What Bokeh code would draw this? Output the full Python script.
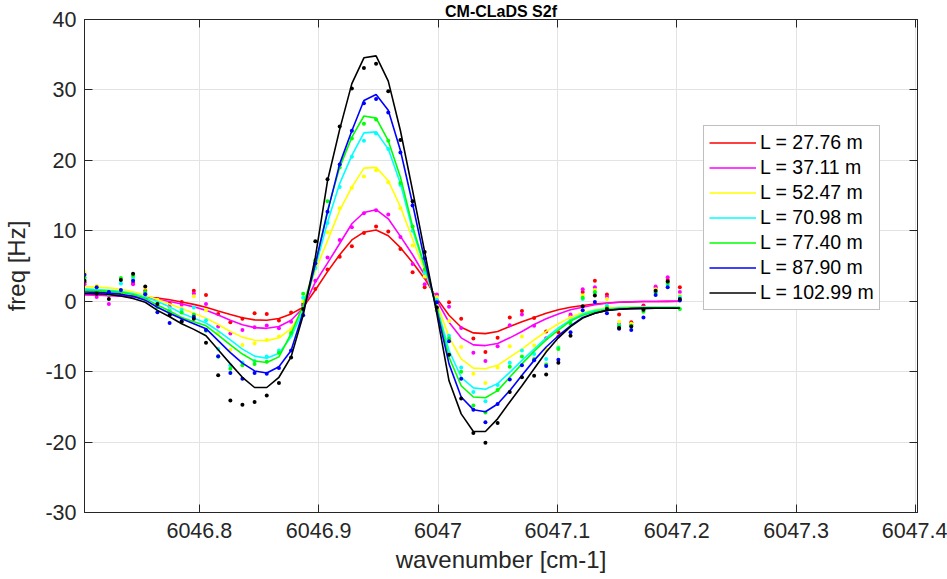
from bokeh.plotting import figure
from bokeh.models import (Range1d, LinearAxis, FixedTicker, Legend, LegendItem,
                          CustomJSTickFormatter, GlobalInlineStyleSheet)
from bokeh.embed import file_html
from bokeh.resources import INLINE

# ---------------- data ----------------
wavenumber = [6046.7038, 6046.7140, 6046.7242, 6046.7343, 6046.7445, 6046.7547, 6046.7649, 6046.7751,
              6046.7852, 6046.7954, 6046.8056, 6046.8158, 6046.8260, 6046.8361, 6046.8463, 6046.8565,
              6046.8667, 6046.8769, 6046.8870, 6046.8972, 6046.9074, 6046.9176, 6046.9278, 6046.9379,
              6046.9481, 6046.9583, 6046.9685, 6046.9787, 6046.9888, 6046.9990, 6047.0092, 6047.0194,
              6047.0296, 6047.0397, 6047.0499, 6047.0601, 6047.0703, 6047.0805, 6047.0906, 6047.1008,
              6047.1110, 6047.1212, 6047.1314, 6047.1415, 6047.1517, 6047.1619, 6047.1721, 6047.1823,
              6047.1924, 6047.2026]

series_names = ["L = 27.76 m", "L = 37.11 m", "L = 52.47 m", "L = 70.98 m",
                "L = 77.40 m", "L = 87.90 m", "L = 102.99 m"]
series_colors = ["#ff0000", "#ff00ff", "#ffff00", "#00ffff", "#00ff00", "#0000ff", "#000000"]

meas_L2776 = [2.7, 1.5, 0.9, 1.3, 2.6, 1.5, 0.3, -0.3, -0.1, 1.5,
              0.9, -1.8, -3.0, -2.5, -1.7, -1.8, -2.75, -1.6, -0.4, 1.75,
              4.5, 6.3, 7.8, 9.7, 10.6, 9.9, 7.4, 4.1, 2.0, 0.9,
              -0.15, -2.5, -5.3, -7.2, -5.2, -2.3, -1.4, -2.4, -4.3, -4.4,
              -2.1, 1.3, 2.9, 0.95, -1.9, -3.0, -0.6, 1.9, 3.0, 2.0]
meas_L3711 = [2.4, 0.6, -0.4, 1.0, 2.4, 1.1, 0.1, -0.8, -0.5, 1.1,
              -0.4, -3.6, -4.6, -4.1, -3.7, -3.45, -3.85, -2.9, -0.6, 2.9,
              6.2, 8.7, 10.5, 12.5, 12.9, 12.3, 9.1, 5.3, 2.4, 0.95,
              -0.8, -3.8, -7.3, -8.5, -6.4, -3.4, -1.9, -3.5, -5.25, -5.0,
              -1.9, 1.7, 2.0, 0.6, -3.2, -3.3, -0.8, 2.1, 3.4, 1.3]
meas_L5247 = [4.1, 2.2, 1.0, 1.2, 3.1, 1.9, 0.2, -1.1, -1.0, 0.7,
              -1.3, -4.5, -6.9, -6.2, -6.0, -5.5, -5.0, -4.0, 0.0, 4.6,
              9.8, 13.2, 16.1, 17.7, 18.6, 16.9, 13.2, 7.9, 3.5, 0.6,
              -2.8, -6.5, -10.3, -11.6, -9.4, -6.4, -5.0, -6.3, -6.85, -6.5,
              -2.3, 0.8, 1.6, 0.3, -2.9, -3.2, -1.1, 1.7, 2.5, 0.8]
meas_L7098 = [3.2, 1.4, 1.0, 2.5, 3.3, 1.2, -0.3, -1.3, -1.2, -0.9,
              -2.7, -6.8, -9.1, -8.7, -8.5, -7.85, -7.0, -4.8, 0.5, 4.7,
              11.1, 16.2, 20.5, 22.8, 23.8, 21.6, 16.5, 10.0, 4.0, 0.2,
              -4.9, -9.4, -12.9, -14.2, -11.9, -8.75, -7.0, -7.5, -8.2, -6.6,
              -2.8, 0.3, 1.2, -0.6, -3.4, -3.5, -1.2, 1.2, 2.3, 0.6]
meas_L7740 = [3.4, 1.2, 1.1, 3.3, 3.6, 1.3, -0.85, -1.7, -1.6, -1.9,
              -4.2, -7.9, -9.6, -9.1, -8.9, -8.6, -7.3, -4.5, 1.05, 5.8,
              14.2, 19.0, 23.1, 25.2, 25.8, 22.8, 16.8, 10.6, 4.5, -1.3,
              -5.3, -10.0, -14.8, -15.8, -12.6, -9.3, -7.85, -8.2, -9.0, -6.8,
              -3.2, 0.5, 1.3, -0.9, -3.6, -3.5, -1.5, 1.3, 2.6, -1.1]
meas_L8790 = [3.75, 2.0, 1.3, 1.6, 2.9, 1.0, -1.55, -3.1, -2.8, -2.2,
              -4.1, -7.8, -10.2, -11.0, -10.2, -10.3, -9.5, -7.0, -2.0, 5.4,
              12.7, 19.4, 24.2, 28.1, 28.7, 26.8, 21.1, 13.6, 6.1, -0.15,
              -5.7, -11.0, -15.4, -17.2, -14.6, -11.1, -9.1, -8.4, -9.2, -8.3,
              -4.4, -1.3, -0.1, -1.7, -3.9, -4.1, -2.3, 0.9, 2.0, 0.1]
meas_L10299 = [2.9, 1.05, 0.3, 3.0, 3.9, 2.1, -0.4, -2.0, -2.9, -2.5,
               -5.9, -10.5, -14.1, -14.7, -14.3, -13.4, -11.6, -8.0, -1.1, 8.5,
               17.3, 24.8, 30.2, 33.1, 33.7, 29.8, 22.9, 14.2, 7.0, -0.9,
               -7.6, -13.8, -18.7, -20.1, -17.3, -12.9, -10.8, -10.6, -10.4, -8.75,
               -4.9, -0.7, 0.8, -1.1, -3.8, -3.6, -1.2, 1.5, 2.8, 0.3]

fit_L2776 = [1.0, 0.95, 0.9, 0.8, 0.7, 0.6, 0.45, 0.2, -0.1, -0.45,
             -0.85, -1.4, -1.9, -2.35, -2.65, -2.7, -2.45, -1.8, -0.85, 1.6,
             4.2, 6.6, 8.7, 9.8, 10.1, 9.3, 7.6, 5.5, 3.2, 0.4,
             -2.0, -3.7, -4.5, -4.6, -4.3, -3.6, -2.9, -2.3, -1.7, -1.2,
             -0.85, -0.6, -0.4, -0.25, -0.15, -0.1, -0.05, -0.03, -0.02, -0.01]
fit_L3711 = [0.9, 0.85, 0.8, 0.72, 0.6, 0.45, 0.25, -0.05, -0.4, -0.8,
             -1.3, -1.95, -2.7, -3.35, -3.75, -3.85, -3.6, -2.7, -0.95, 2.7,
             5.4, 8.2, 11.0, 12.6, 13.0, 11.7, 9.2, 6.6, 3.7, 0.1,
             -3.0, -5.2, -6.2, -6.3, -6.0, -5.2, -4.3, -3.3, -2.5, -1.8,
             -1.2, -0.85, -0.5, -0.3, -0.15, -0.08, -0.05, -0.03, -0.02, -0.01]
fit_L5247 = [2.1, 2.0, 1.9, 1.7, 1.35, 0.85, 0.25, -0.4, -1.05, -1.7,
             -2.4, -3.3, -4.3, -5.1, -5.55, -5.6, -5.2, -3.9, -1.1, 4.35,
             8.6, 12.9, 16.2, 18.9, 19.0, 17.1, 13.4, 8.8, 4.3, -0.3,
             -5.1, -8.2, -9.5, -9.6, -9.1, -7.95, -6.8, -5.5, -4.3, -3.2,
             -2.3, -1.6, -1.2, -0.95, -0.85, -0.8, -0.8, -0.8, -0.8, -0.8]
fit_L7098 = [1.75, 1.65, 1.55, 1.4, 1.1, 0.6, -0.05, -0.8, -1.7, -2.4,
             -3.1, -4.2, -5.5, -6.8, -7.8, -8.1, -7.4, -5.1, -1.3, 4.8,
             11.2, 16.7, 20.7, 23.9, 24.05, 21.6, 16.7, 10.1, 4.8, -0.75,
             -7.0, -10.8, -12.3, -12.5, -11.7, -10.1, -8.4, -6.8, -5.2, -3.8,
             -2.65, -1.8, -1.3, -1.1, -0.95, -0.9, -0.88, -0.87, -0.86, -0.85]
fit_L7740 = [1.55, 1.5, 1.4, 1.25, 0.95, 0.4, -0.55, -1.4, -2.3, -2.9,
             -3.5, -4.8, -6.2, -7.5, -8.5, -8.7, -7.9, -4.6, -0.6, 5.1,
             12.9, 19.0, 23.3, 26.3, 26.0, 22.8, 17.6, 10.6, 5.0, -0.94,
             -7.95, -12.0, -13.6, -13.7, -12.7, -10.8, -8.9, -7.1, -5.5, -4.1,
             -2.8, -2.0, -1.5, -1.2, -1.05, -1.0, -0.97, -0.95, -0.95, -0.95]
fit_L8790 = [1.3, 1.25, 1.15, 1.0, 0.7, 0.15, -0.85, -1.7, -2.5, -3.2,
             -3.9, -5.6, -7.3, -8.8, -9.9, -10.2, -9.3, -7.0, -1.55, 5.3,
             12.65, 19.5, 24.2, 28.5, 29.35, 27.1, 21.4, 13.8, 5.8, -1.3,
             -8.9, -13.6, -15.4, -15.7, -14.6, -12.7, -10.5, -8.4, -6.5, -4.9,
             -3.5, -2.3, -1.7, -1.3, -1.15, -1.05, -1.02, -1.0, -1.0, -1.0]
fit_L10299 = [1.1, 1.05, 0.95, 0.75, 0.4, -0.15, -1.3, -2.2, -3.2, -4.0,
              -4.9, -6.9, -8.9, -10.8, -12.25, -12.25, -10.8, -7.9, -2.0, 6.25,
              17.1, 24.4, 30.9, 34.56, 34.84, 31.25, 24.2, 15.7, 7.0, -1.8,
              -11.3, -16.0, -18.5, -18.5, -16.7, -14.3, -12.0, -9.6, -7.2, -5.2,
              -3.6, -2.4, -1.7, -1.3, -1.15, -1.05, -1.02, -1.0, -1.0, -1.0]

measured = [meas_L2776, meas_L3711, meas_L5247, meas_L7098, meas_L7740, meas_L8790, meas_L10299]
fitted = [fit_L2776, fit_L3711, fit_L5247, fit_L7098, fit_L7740, fit_L8790, fit_L10299]

x_ticks = [6046.8, 6046.9, 6047.0, 6047.1, 6047.2, 6047.3, 6047.4]
x_tick_labels = ["6046.8", "6046.9", "6047", "6047.1", "6047.2", "6047.3", "6047.4"]
y_ticks = [-30, -20, -10, 0, 10, 20, 30, 40]
y_tick_labels = ["-30", "-20", "-10", "0", "10", "20", "30", "40"]

title_text = "CM-CLaDS S2f"
x_label = "wavenumber [cm-1]"
y_label = "freq [Hz]"

# ---------------- styling ----------------
FONT = "Liberation Sans"
AX = "#262626"

p = figure(width=947, height=579,
           x_range=Range1d(6046.7038, 6047.4017), y_range=Range1d(-30, 40),
           output_backend="svg", toolbar_location=None, title=title_text,
           min_border_left=82, min_border_right=30, min_border_top=19, min_border_bottom=67,
           x_axis_label=x_label, y_axis_label=y_label)
p.stylesheets = [GlobalInlineStyleSheet(css="html, body { margin: 0 !important; padding: 0; overflow: hidden; }")]

p.title.align = "center"
p.title.text_font = FONT
p.title.text_font_size = "16px"
p.title.text_font_style = "bold"
p.title.text_color = "black"
p.title.standoff = 0
p.title.offset = 0

p.outline_line_color = AX
p.outline_line_width = 1
p.background_fill_color = "white"
p.border_fill_color = "white"

p.xaxis.ticker = FixedTicker(ticks=x_ticks)
p.xaxis.major_label_overrides = dict(zip(x_ticks, x_tick_labels))
p.yaxis.ticker = FixedTicker(ticks=y_ticks)
p.yaxis.major_label_overrides = dict(zip(y_ticks, y_tick_labels))
p.xgrid.ticker = FixedTicker(ticks=x_ticks)
p.ygrid.ticker = FixedTicker(ticks=y_ticks)
p.grid.grid_line_color = "#e3e3e3"
p.grid.grid_line_width = 1

for ax in (p.xaxis[0], p.yaxis[0]):
    ax.major_tick_in = 8
    ax.major_tick_out = 0
    ax.minor_tick_line_color = None
    ax.axis_line_color = AX
    ax.major_tick_line_color = AX
    ax.major_label_text_font = FONT
    ax.major_label_text_font_size = "21.5px"
    ax.major_label_text_color = AX
    ax.axis_label_text_font = FONT
    ax.axis_label_text_font_size = "24px"
    ax.axis_label_text_font_style = "normal"
    ax.axis_label_text_color = AX
p.xaxis.major_label_standoff = 10
p.xaxis.axis_label_standoff = 5
p.yaxis.major_label_standoff = 8
p.yaxis.axis_label_standoff = 12

blank = CustomJSTickFormatter(code="return ''")
top_axis = LinearAxis(ticker=FixedTicker(ticks=x_ticks), formatter=blank,
                      major_label_text_font_size="0px", major_label_standoff=0,
                      major_tick_in=8, major_tick_out=0, minor_tick_line_color=None,
                      axis_line_color=AX, major_tick_line_color=AX)
right_axis = LinearAxis(ticker=FixedTicker(ticks=y_ticks), formatter=blank,
                        major_label_text_font_size="0px", major_label_standoff=0,
                        major_tick_in=8, major_tick_out=0, minor_tick_line_color=None,
                        axis_line_color=AX, major_tick_line_color=AX)
p.add_layout(top_axis, "above")
p.add_layout(right_axis, "right")

items = []
for name, color, meas, fit in zip(series_names, series_colors, measured, fitted):
    p.scatter(wavenumber, meas, size=4, fill_color=color, line_color=None)
    r = p.line(wavenumber, fit, line_color=color, line_width=1.6)
    items.append(LegendItem(label=name, renderers=[r]))

legend = Legend(items=items, location=(619, 202), margin=0, padding=5, spacing=2,
                glyph_width=47, glyph_height=21, label_height=21, label_standoff=4,
                label_text_font=FONT, label_text_font_size="19.5px", label_text_color="black",
                border_line_color="#808080", border_line_width=1,
                background_fill_color="white", background_fill_alpha=1.0)
p.add_layout(legend)

open("out.html", "w").write(file_html(p, INLINE))
